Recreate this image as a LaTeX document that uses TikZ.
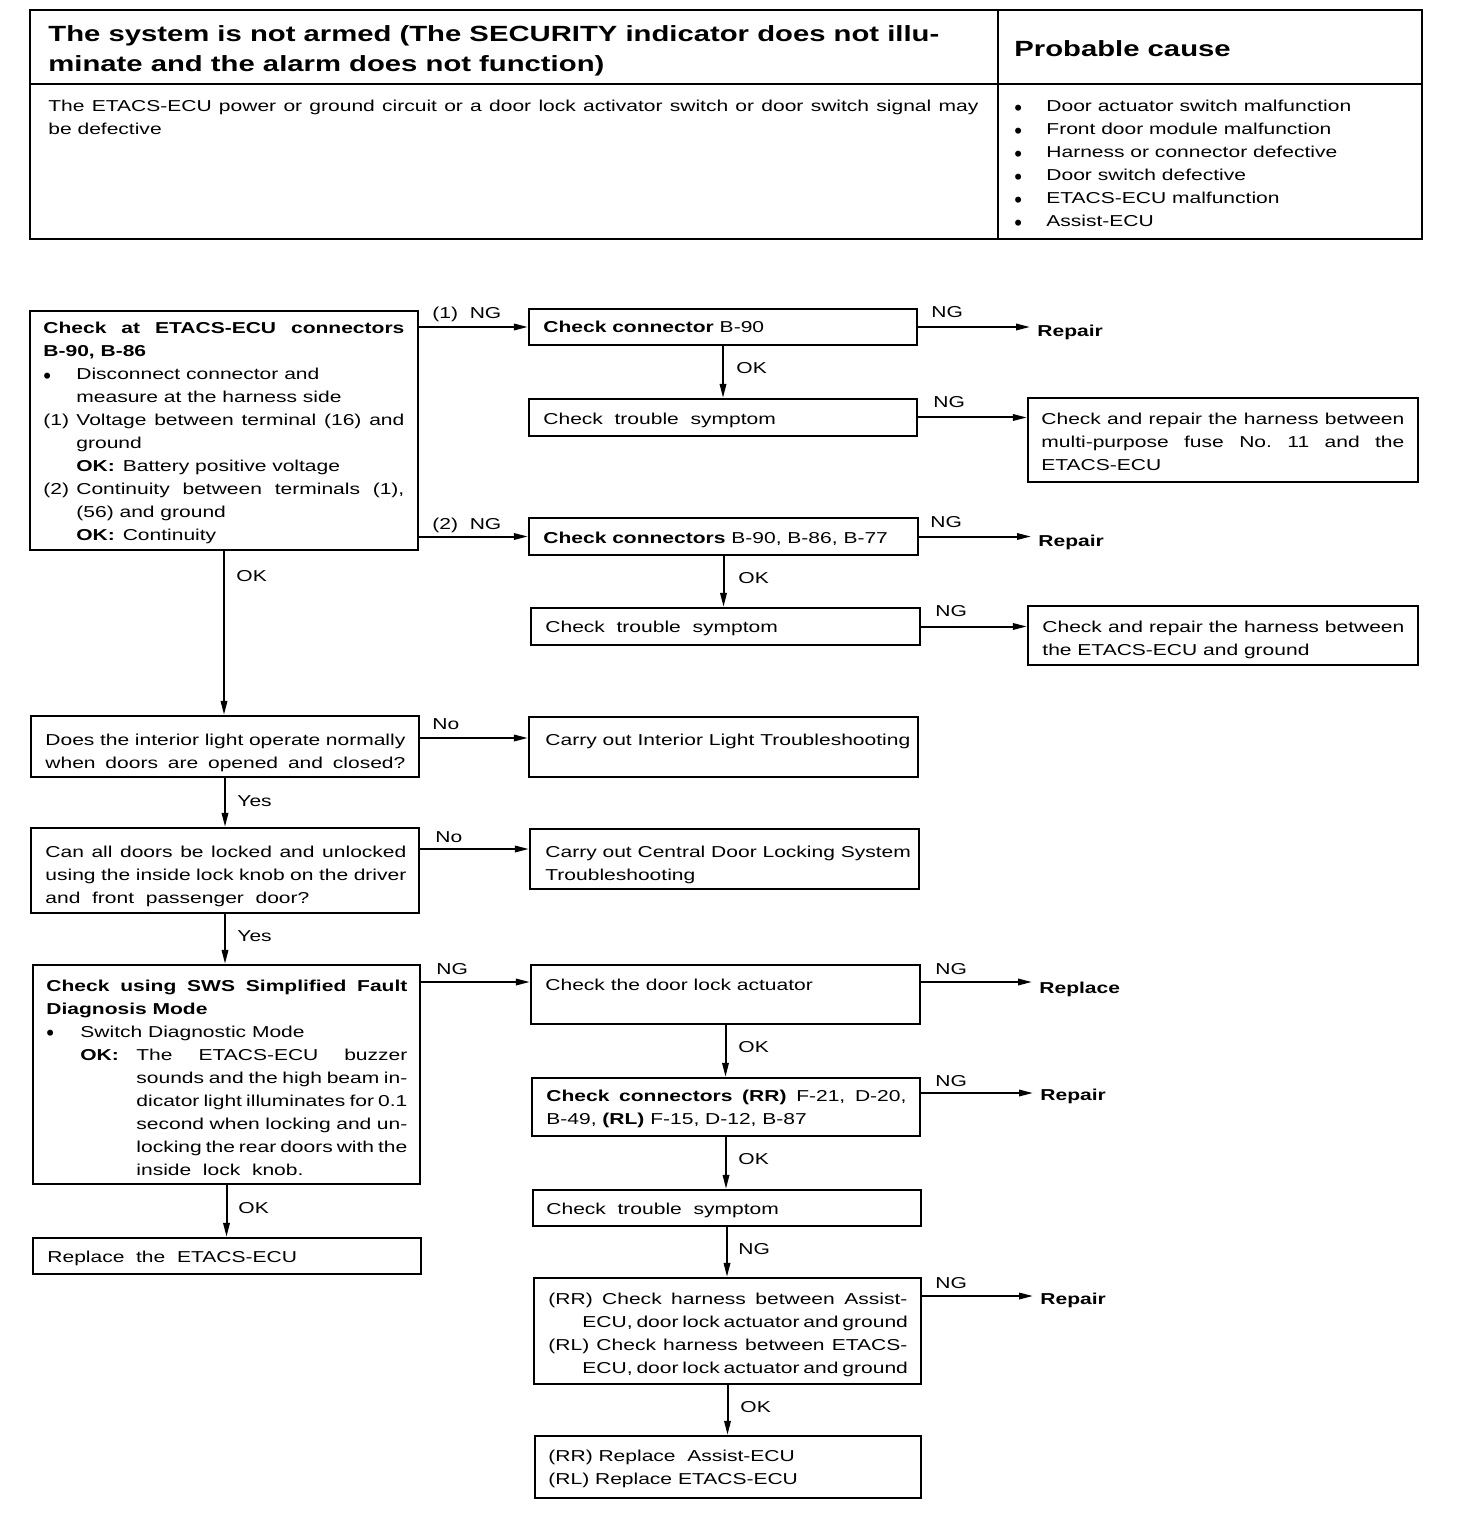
\documentclass[tikz,border=0pt]{standalone}
\usepackage{fontspec}
\setmainfont{Liberation Sans}[FakeStretch=1.33]
\usetikzlibrary{arrows.meta,fit}
\newcommand\bodyfont{\fontsize{7.9}{11.5}\selectfont\frenchspacing}
\newcommand\titlefont{\fontsize{11}{15}\selectfont\bfseries}
\newcommand\jl[2]{\makebox[#1][s]{#2}}
\newcommand\bul{\raisebox{-0.2em}{\scalebox{1.05}[1.4]{\textbullet}}}
\newcommand\lines[1]{\begin{tabular}[t]{@{}l@{}}#1\end{tabular}}
\newcommand\fbx[5]{\node[box, fit={(#2,#3) (#4,#5)}] (#1) {};}
\begin{document}
\begin{tikzpicture}[x=0.5pt,y=-0.5pt,
  box/.style={draw, line width=1.1pt, inner sep=0pt},
  txt/.style={inner sep=0pt, anchor=base west, font=\bodyfont},
  lbl/.style={inner sep=0pt, anchor=base west, font=\bodyfont},
  outc/.style={inner sep=0pt, anchor=base west, font=\bodyfont\bfseries},
  arr/.style={line width=1pt, -{Triangle[length=7pt,width=3.2pt]}},
  arrout/.style={arr, shorten >=3.5pt},
  rule/.style={line width=1.1pt}]
\useasboundingbox[fill=white] (0,0) rectangle (1456,1518);

% ---------- header table ----------
\fbx{hdr}{30}{10}{1422}{239}
\draw[rule] (998,10) -- (998,239);
\draw[rule] (30,84) -- (1422,84);
\node[txt, font=\titlefont] (title) at (48,42)
  {\lines{The system is not armed (The SECURITY indicator does not illu-\\minate and the alarm does not function)}};
\node[lbl, font=\titlefont] (pc) at (1014,57) {Probable cause};
\node[txt] (desc) at (48,112)
  {\lines{\jl{465pt}{The ETACS-ECU power or ground circuit or a door lock activator switch or door switch signal may}\\be defective}};
\node[txt] (causes) at (1014,112)
  {\lines{\makebox[16pt][l]{\bul}Door actuator switch malfunction\\
   \makebox[16pt][l]{\bul}Front door module malfunction\\
   \makebox[16pt][l]{\bul}Harness or connector defective\\
   \makebox[16pt][l]{\bul}Door switch defective\\
   \makebox[16pt][l]{\bul}ETACS-ECU malfunction\\
   \makebox[16pt][l]{\bul}Assist-ECU}};

% ---------- boxes ----------
\fbx{A}{30}{311}{418}{550}
\fbx{B1}{529}{309}{917}{345}
\fbx{B2}{529}{399}{917}{436}
\fbx{B3}{1028}{398}{1418}{482}
\fbx{C1}{529}{518}{918}{555}
\fbx{C2}{531}{608}{920}{645}
\fbx{C3}{1028}{606}{1418}{665}
\fbx{D}{31}{716}{419}{777}
\fbx{D2}{529}{717}{918}{777}
\fbx{E}{31}{828}{419}{913}
\fbx{E2}{530}{829}{919}{889}
\fbx{F}{33}{965}{420}{1184}
\fbx{G}{531}{965}{920}{1024}
\fbx{H}{532}{1078}{920}{1136}
\fbx{I}{533}{1190}{921}{1226}
\fbx{J}{534}{1278}{921}{1384}
\fbx{K}{535}{1436}{921}{1498}
\fbx{L}{33}{1238}{421}{1274}

% ---------- box texts ----------
\node[txt] (tA) at (43,334)
  {\lines{\jl{180.5pt}{\bfseries Check at ETACS-ECU connectors}\\
   \textbf{B-90, B-86}\\
   \makebox[16.5pt][l]{\bul}Disconnect connector and\\
   \hspace*{16.5pt}measure at the harness side\\
   \makebox[16.5pt][l]{(1)}\jl{164pt}{Voltage between terminal (16) and}\\
   \hspace*{16.5pt}ground\\
   \hspace*{16.5pt}\textbf{OK:}\enspace Battery positive voltage\\
   \makebox[16.5pt][l]{(2)}\jl{164pt}{Continuity between terminals (1),}\\
   \hspace*{16.5pt}(56) and ground\\
   \hspace*{16.5pt}\textbf{OK:}\enspace Continuity}};
\node[txt] (tB1) at (543,333) {\textbf{Check connector} B-90};
\node[txt] (tB2) at (543,424) {Check\ \ trouble\ \ symptom};
\node[txt] (tB3) at (1041,424)
  {\lines{\jl{181.5pt}{Check and repair the harness between}\\
   \jl{181.5pt}{multi-purpose fuse No. 11 and the}\\
   ETACS-ECU}};
\node[txt] (tC1) at (543,543) {\textbf{Check connectors} B-90, B-86, B-77};
\node[txt] (tC2) at (545,632) {Check\ \ trouble\ \ symptom};
\node[txt] (tC3) at (1042,632)
  {\lines{\jl{181pt}{Check and repair the harness between}\\
   the ETACS-ECU and ground}};
\node[txt] (tD) at (45,745)
  {\lines{\jl{180pt}{Does the interior light operate normally}\\
   \jl{180pt}{when doors are opened and closed?}}};
\node[txt] (tD2) at (545,745) {Carry out Interior Light Troubleshooting};
\node[txt] (tE) at (45,857)
  {\lines{\jl{180.5pt}{Can all doors be locked and unlocked}\\
   \jl{180.5pt}{using the inside lock knob on the driver}\\
   and\ \ front\ \ passenger\ \ door?}};
\node[txt] (tE2) at (545,857) {\lines{Carry out Central Door Locking System\\Troubleshooting}};
\node[txt] (tF) at (46,991)
  {\lines{\jl{180.5pt}{\bfseries Check using SWS Simplified Fault}\\
   \textbf{Diagnosis Mode}\\
   \makebox[17pt][l]{\bul}Switch Diagnostic Mode\\
   \hspace*{17pt}\makebox[28pt][l]{\textbf{OK:}}\jl{135.5pt}{The ETACS-ECU buzzer}\\
   \hspace*{45pt}\jl{135.5pt}{sounds and the high beam in-}\\
   \hspace*{45pt}\jl{135.5pt}{dicator light illuminates for 0.1}\\
   \hspace*{45pt}\jl{135.5pt}{second when locking and un-}\\
   \hspace*{45pt}\jl{135.5pt}{locking the rear doors with the}\\
   \hspace*{45pt}inside\ \ lock\ \ knob.}};
\node[txt] (tG) at (545,990) {Check the door lock actuator};
\node[txt] (tH) at (546,1101)
  {\lines{\jl{180pt}{\textbf{Check connectors (RR)} F-21, D-20,}\\
   B-49, \textbf{(RL)} F-15, D-12, B-87}};
\node[txt] (tI) at (546,1214) {Check\ \ trouble\ \ symptom};
\node[txt] (tJ) at (548,1304)
  {\lines{\jl{179.5pt}{(RR) Check harness between Assist-}\\
   \hspace*{17pt}\jl{162.5pt}{ECU, door lock actuator and ground}\\
   \jl{179.5pt}{(RL) Check harness between ETACS-}\\
   \hspace*{17pt}\jl{162.5pt}{ECU, door lock actuator and ground}}};
\node[txt] (tK) at (548,1461) {\lines{(RR) Replace\ \ Assist-ECU\\(RL) Replace ETACS-ECU}};
\node[txt] (tL) at (47,1262) {Replace\ \ the\ \ ETACS-ECU};

% ---------- outcomes ----------
\node[outc] (rep1) at (1037,337) {Repair};
\node[outc] (rep2) at (1038,546) {Repair};
\node[outc] (rep3) at (1039,993) {Replace};
\node[outc] (rep4) at (1040,1100) {Repair};
\node[outc] (rep5) at (1040,1304) {Repair};

% ---------- level coordinates ----------
\coordinate (yD) at (0,738);
\coordinate (yE) at (0,849);
\coordinate (yF) at (0,982);
\coordinate (yH) at (0,1093);
\coordinate (yJ) at (0,1296);

% ---------- connectors ----------
\draw[arr] (A.east |- B1) -- (B1.west);
\draw[arr] (A.east |- C1) -- (C1.west);
\draw[arrout] (B1.east) -- (B1.east -| rep1.west);
\draw[arr] (B1.south) -- (B1.south |- B2.north);
\draw[arr] (B2.east) -- (B2.east -| B3.west);
\draw[arrout] (C1.east) -- (C1.east -| rep2.west);
\draw[arr] (C1.south) -- (C1.south |- C2.north);
\draw[arr] (C2.east) -- (C2.east -| C3.west);
\draw[arr] (A.south) -- (A.south |- D.north);
\draw[arr] (D.east |- yD) -- (D2.west |- yD);
\draw[arr] (D.south) -- (D.south |- E.north);
\draw[arr] (E.east |- yE) -- (E2.west |- yE);
\draw[arr] (E.south) -- (E.south |- F.north);
\draw[arr] (F.east |- yF) -- (G.west |- yF);
\draw[arr] (F.south) -- (F.south |- L.north);
\draw[arrout] (G.east |- yF) -- (rep3.west |- yF);
\draw[arr] (G.south) -- (G.south |- H.north);
\draw[arrout] (H.east |- yH) -- (rep4.west |- yH);
\draw[arr] (H.south) -- (H.south |- I.north);
\draw[arr] (I.south) -- (I.south |- J.north);
\draw[arrout] (J.east |- yJ) -- (rep5.west |- yJ);
\draw[arr] (J.south) -- (J.south |- K.north);

% ---------- connector labels ----------
\node[lbl] (l1) at (432,319) {(1)\ \ NG};
\node[lbl] (l2) at (432,529) {(2)\ \ NG};
\node[lbl] (l3) at (931,318) {NG};
\node[lbl] (l4) at (933,408) {NG};
\node[lbl] (l5) at (930,527) {NG};
\node[lbl] (l6) at (935,616) {NG};
\node[lbl] (l7) at (236,581) {OK};
\node[lbl] (l8) at (736,374) {OK};
\node[lbl] (l9) at (738,583) {OK};
\node[lbl] (l10) at (432,729) {No};
\node[lbl] (l11) at (237,806) {Yes};
\node[lbl] (l12) at (435,842) {No};
\node[lbl] (l13) at (237,941) {Yes};
\node[lbl] (l14) at (436,974) {NG};
\node[lbl] (l15) at (935,974) {NG};
\node[lbl] (l16) at (738,1052) {OK};
\node[lbl] (l17) at (935,1086) {NG};
\node[lbl] (l18) at (738,1164) {OK};
\node[lbl] (l19) at (738,1254) {NG};
\node[lbl] (l20) at (935,1288) {NG};
\node[lbl] (l21) at (740,1412) {OK};
\node[lbl] (l22) at (238,1213) {OK};
\end{tikzpicture}
\end{document}
